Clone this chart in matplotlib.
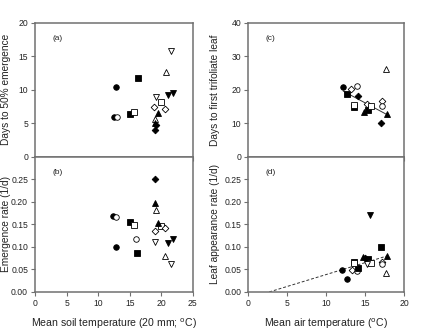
import numpy as np
import matplotlib
matplotlib.use("Agg")
import matplotlib.pyplot as plt

plt.rcParams['font.family'] = ['Liberation Sans', 'DejaVu Sans']

# panel (a): days to 50% emergence vs soil temperature
a_x = [12.5, 12.9, 13.0, 15.0, 16.3, 15.7, 20.0, 19.2, 21.5, 20.7, 19.0,
       18.9, 20.6, 19.4, 19.0, 19.2, 19.0, 21.0, 21.9]
a_y = [6.0, 10.4, 6.0, 6.4, 11.7, 6.7, 8.2, 8.9, 15.8, 12.7, 5.6,
       7.4, 7.1, 6.6, 5.1, 4.7, 4.0, 9.2, 9.6]
a_mk = ['o', 'o', 'o', 's', 's', 's', 's', 'v', 'v', '^', '^',
        'D', 'D', '^', '^', 'D', 'D', 'v', 'v']
a_fill = [1, 1, 0, 1, 1, 0, 0, 0, 0, 0, 0,
          0, 0, 1, 1, 1, 1, 1, 1]

# panel (b): emergence rate vs soil temperature
b_x = [12.4, 12.9, 12.9, 16.0, 15.0, 16.2, 15.7, 20.0, 19.0, 19.0, 19.4,
       19.2, 20.6, 19.0, 20.6, 19.05, 21.5, 21.0, 21.9]
b_y = [0.168, 0.100, 0.166, 0.117, 0.155, 0.086, 0.148, 0.146, 0.251, 0.197, 0.153,
       0.181, 0.080, 0.135, 0.141, 0.112, 0.062, 0.108, 0.118]
b_mk = ['o', 'o', 'o', 'o', 's', 's', 's', 's', 'D', '^', '^',
        '^', '^', 'D', 'D', 'v', 'v', 'v', 'v']
b_fill = [1, 1, 0, 0, 1, 1, 0, 0, 1, 1, 1,
          0, 0, 0, 0, 0, 0, 1, 1]

# panel (c): days to first trifoliate leaf vs air temperature
c_x = [12.1, 12.7, 13.5, 15.4, 13.2, 15.2, 17.2, 14.0, 17.2, 14.05, 17.05,
       13.6, 15.8, 14.8, 17.8, 17.6]
c_y = [20.8, 18.9, 14.9, 14.0, 20.2, 15.8, 16.6, 21.2, 15.1, 18.3, 10.2,
       15.4, 15.2, 13.4, 12.7, 26.2]
c_mk = ['o', 's', 's', 's', 'D', 'D', 'D', 'o', 'o', 'D', 'D',
        's', 's', '^', '^', '^']
c_fill = [1, 1, 1, 1, 0, 0, 0, 0, 0, 1, 1,
          0, 0, 1, 1, 0]
c_fit_x = [12.2, 17.8]
c_fit_y = [19.6, 12.6]

# panel (d): leaf appearance rate vs air temperature
d_x = [12.0, 12.7, 13.3, 17.2, 14.0, 17.2, 13.5, 14.05, 15.3, 17.0,
       13.6, 15.7, 14.75, 17.8, 15.2, 15.6, 17.6, 15.0]
d_y = [0.048, 0.028, 0.049, 0.067, 0.047, 0.061, 0.066, 0.054, 0.073, 0.100,
       0.064, 0.064, 0.078, 0.080, 0.062, 0.172, 0.041, 0.076]
d_mk = ['o', 'o', 'D', 'D', 'o', 'o', 's', 's', 's', 's',
        's', 's', '^', '^', 'v', 'v', '^', 'D']
d_fill = [1, 1, 0, 0, 0, 0, 1, 1, 1, 1,
          0, 0, 1, 1, 0, 1, 0, 1]
d_fit_x = [2.7, 17.8]
d_fit_y = [0.0, 0.080]

rate_ticks = [0, 0.05, 0.10, 0.15, 0.20, 0.25]
rate_labels = ['0.00', '0.05', '0.10', '0.15', '0.20', '0.25']

fig = plt.figure(figsize=(4.22, 3.31), dpi=100)
axa = fig.add_axes([0.083, 0.526, 0.374, 0.405])
axb = fig.add_axes([0.083, 0.118, 0.374, 0.408])
axc = fig.add_axes([0.588, 0.526, 0.370, 0.405])
axd = fig.add_axes([0.588, 0.118, 0.370, 0.408])

spine_col = '#707070'
txt_col = '#222222'


def scatter(ax, xs, ys, mks, fills):
    for x, y, m, f in zip(xs, ys, mks, fills):
        ms = 3.4 if m == 'D' else 4.0
        ax.plot(x, y, marker=m, ms=ms, mec='black', mew=0.6,
                mfc='black' if f else 'white', ls='none', zorder=3)


def style(ax, label, top, ylab, labx):
    for s in ax.spines.values():
        s.set_color(spine_col)
        s.set_linewidth(1.1)
    ax.tick_params(direction='out', length=3, width=0.8, color=spine_col,
                   labelsize=6.2, labelcolor=txt_col, pad=2)
    ax.text(0.11, 0.87, label, transform=ax.transAxes, fontsize=6,
            color=txt_col)
    ax.set_ylabel(ylab, fontsize=7.3, color=txt_col)
    ax.yaxis.set_label_coords(labx, 0.5)
    if top:
        ax.tick_params(labelbottom=False)


scatter(axa, a_x, a_y, a_mk, a_fill)
axa.set_xlim(0, 25)
axa.set_ylim(0, 20)
axa.set_xticks(np.arange(0, 26, 5))
axa.set_yticks(np.arange(0, 21, 5))
style(axa, '(a)', True, 'Days to 50% emergence', -0.15)

scatter(axb, b_x, b_y, b_mk, b_fill)
axb.set_xlim(0, 25)
axb.set_ylim(0, 0.30)
axb.set_xticks(np.arange(0, 26, 5))
axb.set_yticks(rate_ticks)
axb.set_yticklabels(rate_labels)
axb.set_xlabel('Mean soil temperature (20 mm; $^{\\rm o}$C)', fontsize=7.6,
               color=txt_col, labelpad=6)
style(axb, '(b)', False, 'Emergence rate (1/d)', -0.15)

scatter(axc, c_x, c_y, c_mk, c_fill)
axc.plot(c_fit_x, c_fit_y, color='#333333', lw=0.7, zorder=2)
axc.set_xlim(0, 20)
axc.set_ylim(0, 40)
axc.set_xticks(np.arange(0, 21, 5))
axc.set_yticks(np.arange(0, 41, 10))
style(axc, '(c)', True, 'Days to first trifoliate leaf', -0.18)

scatter(axd, d_x, d_y, d_mk, d_fill)
axd.plot(d_fit_x, d_fit_y, color='#333333', lw=0.7, ls=(0, (3, 2)), zorder=2)
axd.set_xlim(0, 20)
axd.set_ylim(0, 0.30)
axd.set_xticks(np.arange(0, 21, 5))
axd.set_yticks(rate_ticks)
axd.set_yticklabels(rate_labels)
axd.set_xlabel('Mean air temperature ($^{\\rm o}$C)', fontsize=7.6,
               color=txt_col, labelpad=6)
style(axd, '(d)', False, 'Leaf appearance rate (1/d)', -0.18)

fig.savefig('out.png', dpi=100)
